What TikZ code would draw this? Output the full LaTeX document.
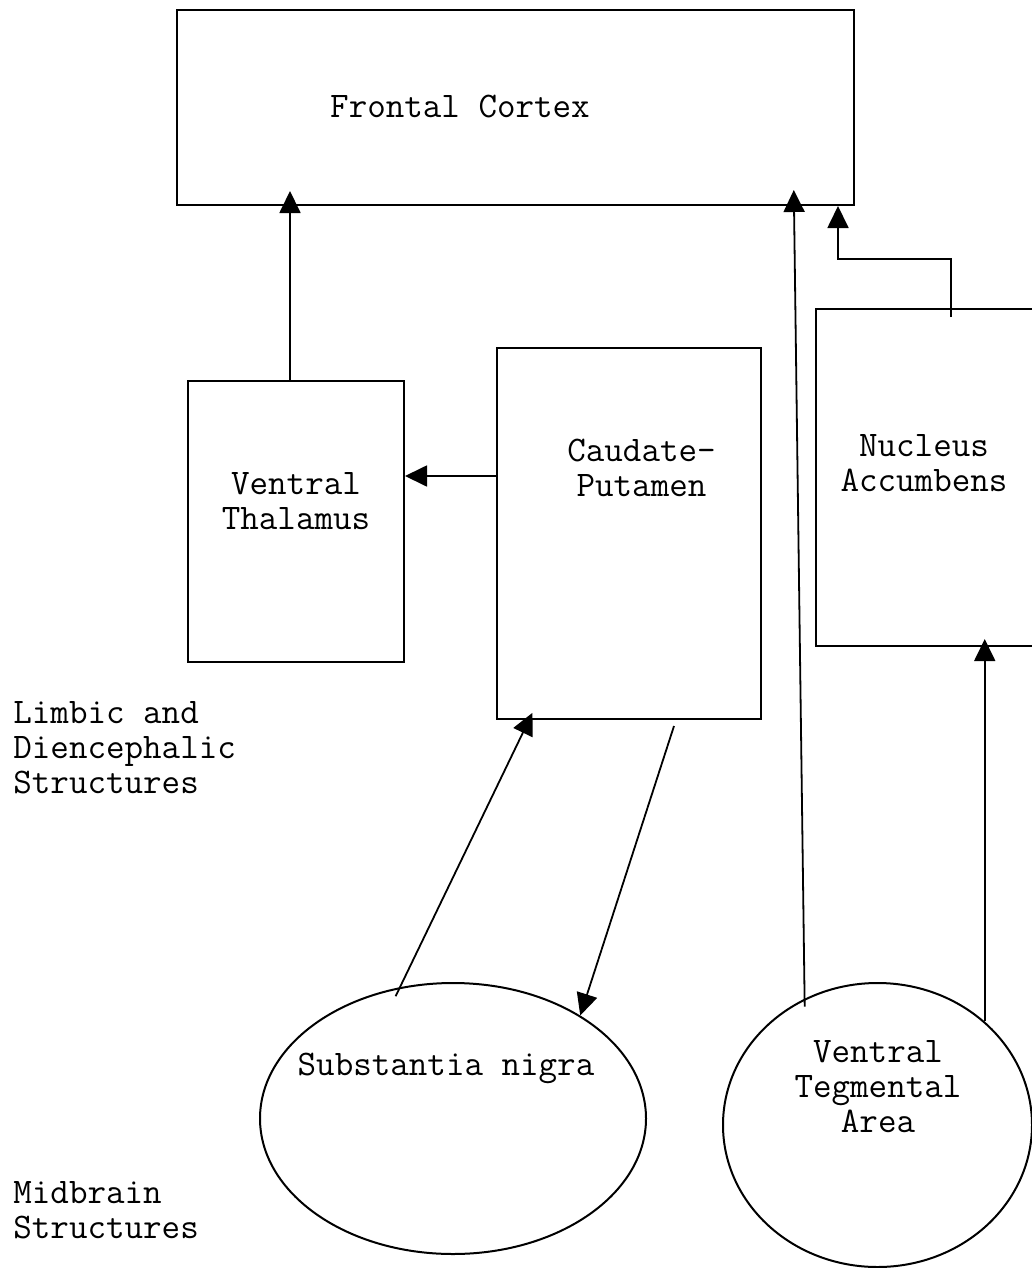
\documentclass[tikz,border=0pt]{standalone}
\usepackage{fontspec}
\usetikzlibrary{arrows.meta,shapes.geometric,calc}

\tikzset{
  box/.style={draw, line width=1pt, rectangle, inner sep=0pt},
  oval/.style={draw, line width=1pt, ellipse, inner sep=0pt},
  lbl/.style={align=center, inner sep=0pt, font=\ttfamily\fontsize{18pt}{17.5pt}\selectfont},
  side/.style={align=left, anchor=west, inner sep=0pt, font=\ttfamily\fontsize{18pt}{17.5pt}\selectfont},
  link/.style={line width=0.9pt, -{Triangle[length=11pt,width=10.5pt]}}
}

\begin{document}
\begin{tikzpicture}[x=0.5pt,y=-0.5pt]
\useasboundingbox (0,0) rectangle (1032,1268);
%四角%
\node[box, minimum width=338.5pt, minimum height=97.5pt] (fc) at (515.5,107.5) {};
\node[box, minimum width=108pt, minimum height=140.5pt] (vt) at (296,521.5) {};
\node[box, minimum width=132pt, minimum height=185.5pt] (cp) at (629,533.5) {};
\node[box, minimum width=109.5pt, minimum height=168.5pt] (na) at (925.5,477.5) {};
%楕円%
\node[oval, minimum width=193pt, minimum height=135.5pt] (sn) at (453,1118.5) {};
\node[oval, minimum width=154.5pt, minimum height=142pt] (vta) at (877.5,1125) {};
%文字%
\node[lbl] (fcT) at (460,107) {Frontal Cortex};
\node[lbl] (vtT) at (296,501) {Ventral\\Thalamus};
\node[lbl] (cpT) at (641.5,467.5) {Caudate-\\Putamen};
\node[lbl] (naT) at (924,463.5) {Nucleus\\Accumbens};
\node[lbl] (snT) at (446,1068) {Substantia nigra};
\node[lbl] (vtaT) at (878,1087) {Ventral\\Tegmental\\Area};
\node[side] (limbic) at (13,747.5) {Limbic and\\Diencephalic\\Structures};
\node[side] (midbrain) at (13,1210.5) {Midbrain\\Structures};
%矢印%
\coordinate (fcVta) at ($(fc.south west)+(618,0)$);
\coordinate (elbow) at (838,259);
\coordinate (cpIn) at ($(cp.south west)+(33,0)$);
\coordinate (cpOut) at ($(cp.south west)+(178,6)$);
\draw[link, shorten >=-7.5pt] ([xshift=-3pt]vt.north) -- ([xshift=-3pt]vt.north |- fc.south);
\draw[link] ([yshift=28.75pt]cp.west) -- ([yshift=28.75pt]cp.west -| vt.east);
\draw[link, shorten <=-4pt, shorten >=-8pt] (vta.120) -- (fcVta);
\draw[link] ([xshift=12.75pt,yshift=-4.5pt]na.north) |- (elbow) -- (elbow |- fc.south);
\draw[link, shorten >=-4pt] (vta.44) -- (vta.44 |- na.south);
\draw[link, shorten <=-5pt, shorten >=-4pt] (sn.112) -- (cpIn);
\draw[link] (cpOut) -- (sn.39);
\end{tikzpicture}
\end{document}
